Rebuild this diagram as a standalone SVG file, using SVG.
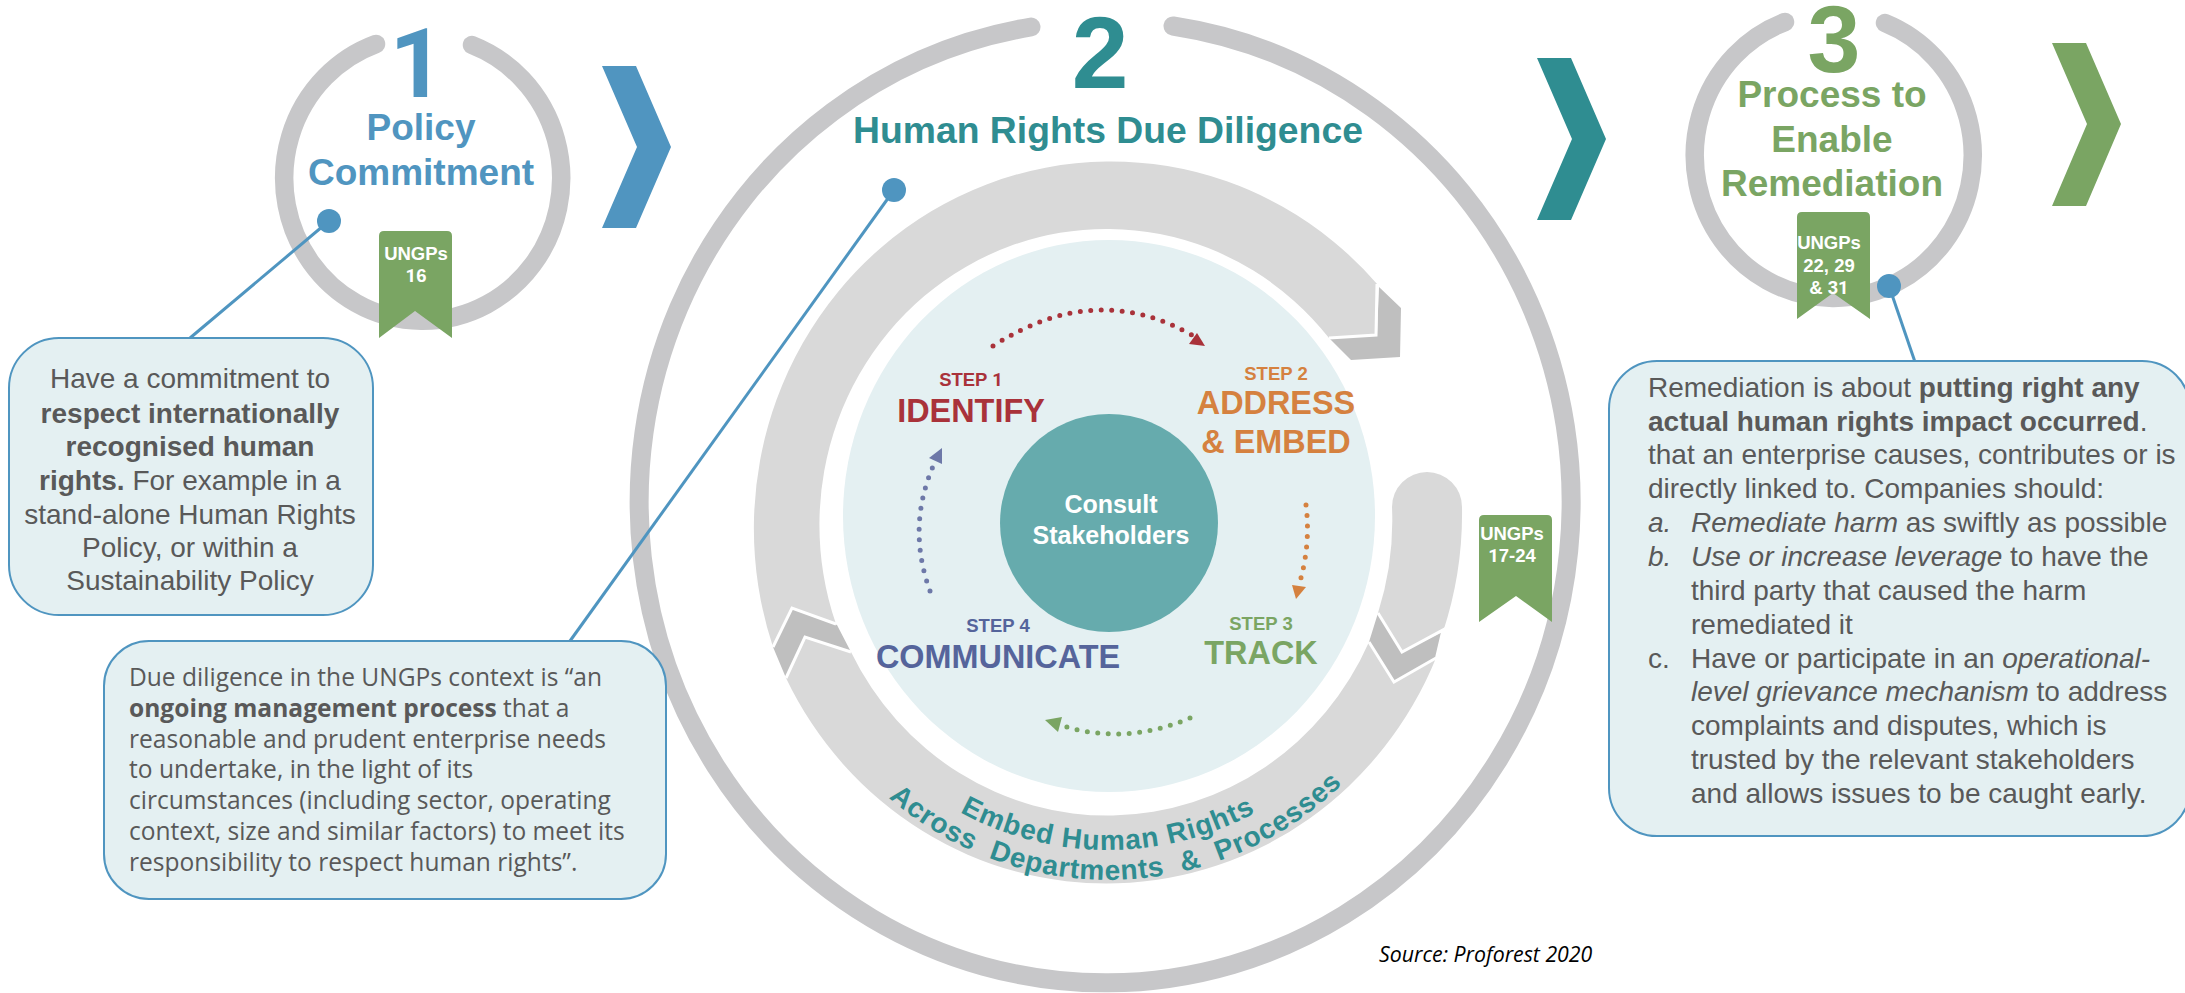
<svg xmlns="http://www.w3.org/2000/svg" width="2185" height="993" viewBox="0 0 2185 993">
<style>
text{font-family:"Liberation Sans",Arial,sans-serif}
.b{font-weight:700}
.ring{fill:none;stroke:#c7c7c9;stroke-linecap:round}
.band{fill:#d9d9d9}
.dark{fill:#bfbfbf}
.edge{fill:none;stroke:#fff;stroke-width:3}
.box{fill:#e4f0f2;stroke:#4f95c0;stroke-width:2}
.conn{stroke:#4f95c0;stroke-width:3;fill:none}
.dot{fill:#4f95c0}
.rib{fill:#7aa563}
.ribt{fill:#fff;font-weight:700;font-size:18.5px;text-anchor:middle}
.body{fill:#595959;font-size:28px}
.c{text-anchor:middle}
.os{font-family:"Open Sans",sans-serif;font-size:24.55px;fill:#595959}
.st{font-weight:700;font-size:18.5px;text-anchor:middle}
.big{font-weight:700;font-size:32.4px;text-anchor:middle}
.h{font-weight:700;font-size:37px;text-anchor:middle}
.ft{font-family:Roboto,sans-serif}
.blue{fill:#5095c0}.teal{fill:#2f8d91}.green{fill:#7aa563}.red{fill:#a9323a}.orange{fill:#d5813f}.violet{fill:#55649b}
.dots{fill:none;stroke-width:5;stroke-linecap:round;stroke-dasharray:0 10.5}
.arc{font-weight:700;font-size:28px;fill:#2f8d91;text-anchor:middle}
</style>
<defs>
<path id="arc1" d="M906,775 A310,310 0 0 0 1310,775"/>
<path id="arc2" d="M820,715 A334,334 0 0 0 1396,715"/>
</defs>

<g id="section-1">
<path class="ring" stroke-width="18.5" d="M376,44 A138.5,142.5 0 1 0 472,45"/>
<text class="blue b ft" x="417" y="97" font-size="96" text-anchor="middle">1</text>
<text class="blue h" x="421" y="140">Policy</text>
<text class="blue h" x="421" y="185">Commitment</text>
<polygon class="blue" points="602,66 636,66 671,147 636,228 602,228 637,147"/>
</g>
<g id="ribbon-16">
<path class="rib" d="M379,236 Q379,231 384,231 L447,231 Q452,231 452,236 L452,338 L415,311 L379,338 Z"/>
<text class="ribt" x="416" y="260">UNGPs</text>
<text class="ribt" x="416" y="282"><tspan class="ft">1</tspan>6</text>
</g>

<g id="section-2">
<path class="ring" stroke-width="19" d="M1031,27 A466,481 0 1 0 1173,26"/>
<text class="teal b" x="1100" y="88" font-size="102" text-anchor="middle">2</text>
<text class="teal h" x="1108" y="143" style="font-size:37.3px">Human Rights Due Diligence</text>
<polygon class="teal" points="1537,58 1571,58 1606,139 1571,220 1537,220 1572,139"/>
</g>

<g id="embed-band">
<polygon class="dark" points="1379,287 1401,308 1400,357 1351,360 1329,338 1377,335"/>
<polygon class="dark" points="773,647 792,608 837,625 851,652 805,637 786,678"/>
<polygon class="dark" points="1378,613 1402,652 1442,632 1436,658 1394,682 1369,642"/>
<path class="band" d="M773,647 A357,367 0 0 1 1378,285 L1377,335 L1329,338 A287,296 0 0 0 836,624 L792,608 Z"/>
<path class="band" d="M786,678 A357,367 0 0 0 1436,658 L1394,682 L1369,642 A287,296 0 0 1 851,652 L805,637 Z"/>
<path class="band" d="M1378,613 A287,296 0 0 0 1392,507 A35,35 0 0 1 1462,507 A357,367 0 0 1 1443,632 L1402,652 Z"/>
<polyline class="edge" points="1377,284 1376,335 1329,338"/>
<polyline class="edge" points="773,647 792,608 836,624"/>
<polyline class="edge" points="786,678 805,637 851,652"/>
<polyline class="edge" points="1378,613 1402,652 1443,630 1436,660"/>
<polyline class="edge" points="1369,642 1394,682 1436,658"/>
<text class="arc"><textPath href="#arc1" startOffset="50%" letter-spacing="1">Embed Human Rights</textPath></text>
<text class="arc"><textPath href="#arc2" startOffset="51.5%" letter-spacing="0.8">Across&#160;&#160;Departments&#160;&#160;&amp;&#160;&#160;Processes</textPath></text>
</g>

<g id="disc"><ellipse cx="1109" cy="516" rx="266" ry="276" fill="#e4f0f2"/></g>

<g id="consult">
<circle cx="1109" cy="523" r="109" fill="#66abad"/>
<text class="c b" x="1111" y="513" font-size="25" fill="#fff">Consult</text>
<text class="c b" x="1111" y="544" font-size="25" fill="#fff">Stakeholders</text>
</g>

<g id="step-1"><text class="st red" x="971" y="386">STEP <tspan class="ft">1</tspan></text><text class="big red" x="971" y="422">IDENTIFY</text></g>
<g id="step-2"><text class="st orange" x="1276" y="380">STEP 2</text><text class="big orange" x="1276" y="414">ADDRESS</text><text class="big orange" x="1276" y="453">&amp; EMBED</text></g>
<g id="step-3"><text class="st green" x="1261" y="630">STEP 3</text><text class="big green" x="1261" y="664">TRACK</text></g>
<g id="step-4"><text class="st violet" x="998" y="632">STEP 4</text><text class="big violet" x="998" y="668">COMMUNICATE</text></g>

<g id="connectors">
<path class="dots" stroke="#a9323a" d="M993,346 Q1095,280 1192,335"/>
<polygon class="red" points="1205,346 1197,333 1189,344"/>
<path class="dots" stroke="#d5813f" d="M1306,505 Q1311,545 1299,585"/>
<polygon class="orange" points="1296,599 1292,585 1306,587"/>
<path class="dots" stroke="#7aa563" d="M1190,718 Q1125,746 1060,725"/>
<polygon class="green" points="1045,720 1062,717 1058,732"/>
<path class="dots" stroke="#6d78a8" d="M930,591 Q906,525 935,462"/>
<polygon fill="#6d78a8" points="942,448 929,458 942,464"/>
<line class="conn" x1="329" y1="221" x2="190" y2="338"/>
<line class="conn" x1="894" y1="190" x2="570" y2="641"/>
<line class="conn" x1="1889" y1="286" x2="1915" y2="362"/>
</g>

<g id="ribbon-17-24">
<path class="rib" d="M1479,520 Q1479,515 1484,515 L1547,515 Q1552,515 1552,520 L1552,622 L1516,596 L1479,622 Z"/>
<text class="ribt" x="1512" y="540">UNGPs</text>
<text class="ribt" x="1512" y="562"><tspan class="ft">1</tspan>7-24</text>
</g>

<g id="section-3">
<path class="ring" stroke-width="18.5" d="M1785,22 A139,142.5 0 1 0 1885,23"/>
<text class="green b" x="1834" y="72" font-size="95" text-anchor="middle">3</text>
<text class="green h" x="1832" y="107">Process to</text>
<text class="green h" x="1832" y="152">Enable</text>
<text class="green h" x="1832" y="196">Remediation</text>
<polygon class="green" points="2052,43 2086,43 2121,124 2086,206 2052,206 2087,124"/>
</g>
<g id="ribbon-22">
<path class="rib" d="M1797,217 Q1797,212 1802,212 L1865,212 Q1870,212 1870,217 L1870,319 L1833,293 L1797,319 Z"/>
<text class="ribt" x="1829" y="249">UNGPs</text>
<text class="ribt" x="1829" y="272">22, 29</text>
<text class="ribt" x="1829" y="294">&amp; 3<tspan class="ft">1</tspan></text>
</g>

<g id="dots">
<circle class="dot" cx="329" cy="221" r="12"/>
<circle class="dot" cx="894" cy="190" r="12"/>
<circle class="dot" cx="1889" cy="286" r="12"/>
</g>

<g id="box-1">
<rect class="box" x="9" y="338" width="364" height="277" rx="50"/>
<text class="body c" x="190" y="388">Have a commitment to</text>
<text class="body c b" x="190" y="423">respect internationally</text>
<text class="body c b" x="190" y="456">recognised human</text>
<text class="body c" x="190" y="490"><tspan class="b">rights.</tspan> For example in a</text>
<text class="body c" x="190" y="524">stand-alone Human Rights</text>
<text class="body c" x="190" y="557">Policy, or within a</text>
<text class="body c" x="190" y="590">Sustainability Policy</text>
</g>

<g id="box-2">
<rect class="box" x="104" y="641" width="562" height="258" rx="45"/>
<text class="os" x="129" y="686">Due diligence in the UNGPs context is “an</text>
<text class="os" x="129" y="717"><tspan font-weight="700">ongoing management process</tspan> that a</text>
<text class="os" x="129" y="748">reasonable and prudent enterprise needs</text>
<text class="os" x="129" y="778">to undertake, in the light of its</text>
<text class="os" x="129" y="809">circumstances (including sector, operating</text>
<text class="os" x="129" y="840">context, size and similar factors) to meet its</text>
<text class="os" x="129" y="871">responsibility to respect human rights”.</text>
</g>

<g id="box-3">
<rect class="box" x="1609" y="361" width="581" height="475" rx="48"/>
<text class="body" x="1648" y="397">Remediation is about <tspan class="b">putting right any</tspan></text>
<text class="body" x="1648" y="431"><tspan class="b">actual human rights impact occurred</tspan>.</text>
<text class="body" x="1648" y="464">that an enterprise causes, contributes or is</text>
<text class="body" x="1648" y="498">directly linked to. Companies should:</text>
<text class="body" x="1648" y="532" font-style="italic">a.</text>
<text class="body" x="1691" y="532"><tspan font-style="italic">Remediate harm</tspan> as swiftly as possible</text>
<text class="body" x="1648" y="566" font-style="italic">b.</text>
<text class="body" x="1691" y="566"><tspan font-style="italic">Use or increase leverage</tspan> to have the</text>
<text class="body" x="1691" y="600">third party that caused the harm</text>
<text class="body" x="1691" y="634">remediated it</text>
<text class="body" x="1648" y="668">c.</text>
<text class="body" x="1691" y="668">Have or participate in an <tspan font-style="italic">operational-</tspan></text>
<text class="body" x="1691" y="701"><tspan font-style="italic">level grievance mechanism</tspan> to address</text>
<text class="body" x="1691" y="735">complaints and disputes, which is</text>
<text class="body" x="1691" y="769">trusted by the relevant stakeholders</text>
<text class="body" x="1691" y="803">and allows issues to be caught early.</text>
</g>

<text x="1379" y="962" font-size="21.3" font-style="italic" style="font-family:'Open Sans',sans-serif" fill="#000">Source: Proforest 2020</text>
</svg>
